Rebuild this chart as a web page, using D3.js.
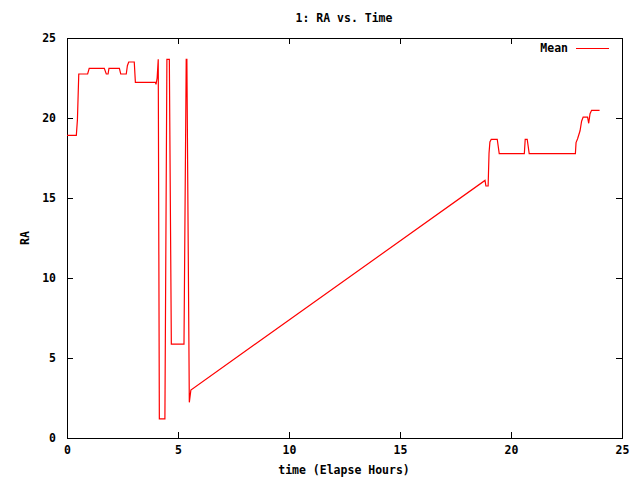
<!DOCTYPE html>
<html>
<head>
<meta charset="utf-8">
<script src="https://cdn.jsdelivr.net/npm/d3@7"></script>
<style>
  body { margin: 0; background: #fff; }
  text { font-family: "DejaVu Sans Mono", monospace; font-weight: bold; font-size: 11.5px; fill: #000; }
</style>
</head>
<body>
<script>
const W = 640, H = 480;
const margin = {left: 67, right: 18, top: 38, bottom: 42};

// elapsed hours and mean RA
const hours = [0.0, 0.42, 0.47, 0.53, 0.93, 1.0, 1.68, 1.77, 1.85, 1.89, 2.36, 2.42, 2.67, 2.72, 2.78, 3.03, 3.08,
  3.98, 4.01, 4.06, 4.11, 4.16, 4.41, 4.50, 4.61, 4.70, 5.27, 5.37, 5.40, 5.51, 5.58,
  18.83, 18.87, 18.97, 19.01, 19.05, 19.11, 19.38, 19.47, 20.6, 20.64, 20.73, 20.82,
  22.9, 22.93, 23.0, 23.11, 23.18, 23.25, 23.45, 23.5, 23.56, 23.63, 23.99];
const meanRA = [18.92, 18.92, 19.9, 22.75, 22.75, 23.1, 23.1, 22.75, 22.75, 23.1, 23.1, 22.75, 22.75, 23.27, 23.5, 23.5, 22.23,
  22.23, 22.1, 22.5, 23.67, 1.19, 1.19, 23.67, 23.67, 5.87, 5.87, 23.67, 23.67, 2.23, 3.0,
  16.1, 15.75, 15.75, 17.8, 18.5, 18.67, 18.67, 17.77, 17.77, 18.67, 18.67, 17.77,
  17.77, 18.46, 18.7, 19.2, 19.8, 20.06, 20.06, 19.67, 20.27, 20.48, 20.48];
const xTicks = [0, 5, 10, 15, 20, 25];
const yTicks = [0, 5, 10, 15, 20, 25];

const svg = d3.select("body").append("svg").attr("width", W).attr("height", H);

const x = d3.scaleLinear().domain([0, 25]).range([margin.left, W - margin.right]);
const y = d3.scaleLinear().domain([0, 25]).range([H - margin.bottom, margin.top]);

// title and axis labels
svg.append("text").attr("x", 344).attr("y", 22).attr("text-anchor", "middle").text("1: RA vs. Time");
svg.append("text").attr("x", 344).attr("y", 474).attr("text-anchor", "middle").text("time (Elapse Hours)");
svg.append("text").attr("transform", "translate(29,238) rotate(-90)").attr("text-anchor", "middle").text("RA");

const g = svg.append("g").attr("shape-rendering", "crispEdges");

// ticks on all four sides, pointing inward
const tl = 6;
g.append("g").attr("transform", `translate(0,${y(0)})`)
  .call(d3.axisBottom(x).tickValues(xTicks).tickSizeInner(-tl).tickSizeOuter(0).tickPadding(8))
  .call(a => a.select(".domain").remove());
g.append("g").attr("transform", `translate(0,${y(25)})`)
  .call(d3.axisTop(x).tickValues(xTicks).tickSizeInner(-tl).tickSizeOuter(0).tickFormat(""))
  .call(a => a.select(".domain").remove());
g.append("g").attr("transform", `translate(${x(0)},0)`)
  .call(d3.axisLeft(y).tickValues(yTicks).tickSizeInner(-tl).tickSizeOuter(0).tickPadding(11))
  .call(a => a.select(".domain").remove());
g.append("g").attr("transform", `translate(${x(25)},0)`)
  .call(d3.axisRight(y).tickValues(yTicks).tickSizeInner(-tl).tickSizeOuter(0).tickFormat(""))
  .call(a => a.select(".domain").remove());
svg.selectAll(".tick text").attr("font-family", null).attr("font-size", null).attr("fill", "#000");
svg.selectAll(".tick line").attr("stroke", "#000");

g.append("rect").attr("x", x(0)).attr("y", y(25))
  .attr("width", x(25) - x(0)).attr("height", y(0) - y(25))
  .attr("fill", "none").attr("stroke", "#000");

// data line
const line = d3.line().x((d, i) => x(hours[i])).y(d => y(d));
svg.append("path").datum(meanRA).attr("d", line)
  .attr("fill", "none").attr("stroke", "#ff0000").attr("stroke-width", 1.2);

// legend
svg.append("text").attr("x", 568).attr("y", 52).attr("text-anchor", "end").text("Mean");
svg.append("line").attr("x1", 576).attr("x2", 609).attr("y1", 48.5).attr("y2", 48.5)
  .attr("stroke", "#ff0000").attr("shape-rendering", "crispEdges");
</script>
</body>
</html>
